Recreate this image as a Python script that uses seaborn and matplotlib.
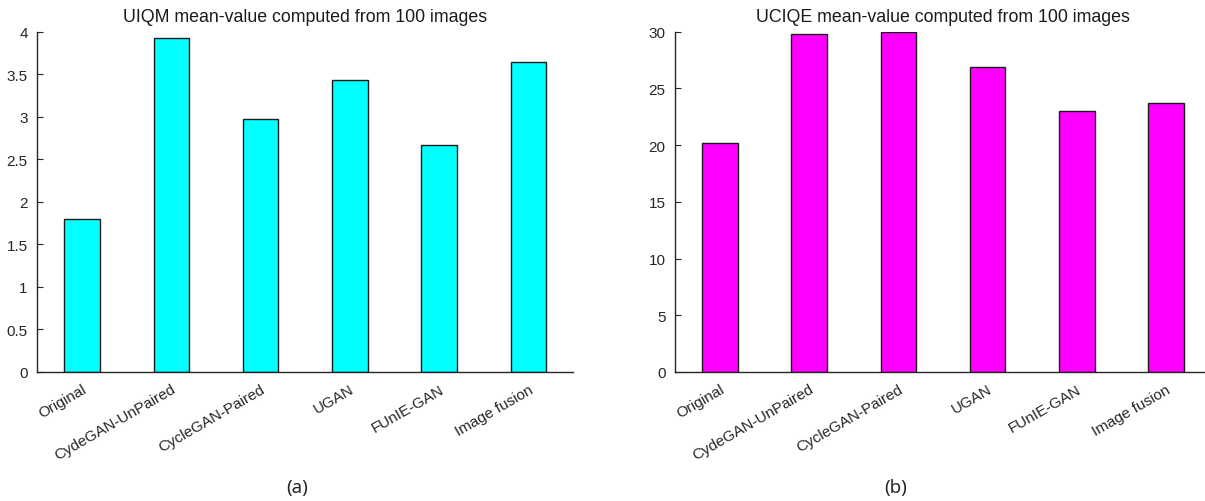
import matplotlib
matplotlib.use('Agg')
import matplotlib.pyplot as plt
import pandas as pd
import seaborn as sns

# data
methods = ['Original', 'CydeGAN-UnPaired', 'CycleGAN-Paired', 'UGAN', 'FUnIE-GAN', 'Image fusion']
uiqm = [1.80, 3.93, 2.97, 3.43, 2.67, 3.64]
uciqe = [20.2, 29.8, 29.95, 26.85, 23.0, 23.7]

sns.set_style('white')
plt.rcParams['font.family'] = ['Liberation Sans', 'DejaVu Sans']

fig = plt.figure(figsize=(12.05, 5.02), dpi=100)
ax1 = fig.add_axes([0.0311, 0.257, 0.4444, 0.678])
ax2 = fig.add_axes([0.5605, 0.257, 0.4441, 0.678])


def draw_panel(ax, values, color, title, yticks, ylim):
    df = pd.DataFrame({'method': methods, 'value': values})
    sns.barplot(data=df, x='method', y='value', color=color, edgecolor='#1a1a1a',
                linewidth=1.0, width=0.4, saturation=1, ax=ax)
    ax.set_xlim(-0.5, len(methods) - 0.5)
    ax.set_ylim(*ylim)
    ax.set_yticks(yticks)
    ax.set_yticklabels([('%g' % t) for t in yticks], fontsize=11)
    ax.set_xticks(range(len(methods)))
    ax.set_xticklabels(methods, rotation=30, ha='right', rotation_mode='anchor', fontsize=11)
    ax.tick_params(axis='x', length=0, pad=7, colors='#262626')
    ax.tick_params(axis='y', direction='in', length=4, width=0.8, left=True, pad=7, colors='#262626')
    ax.set_xlabel('')
    ax.set_ylabel('')
    ax.set_title(title, fontsize=12.8, pad=8, color='#1a1a1a')
    for s in ['top', 'right']:
        ax.spines[s].set_visible(False)
    for s in ['left', 'bottom']:
        ax.spines[s].set_color('#262626')
        ax.spines[s].set_linewidth(1.0)


draw_panel(ax1, uiqm, '#00FFFF', 'UIQM mean-value computed from 100 images',
           [0, 0.5, 1, 1.5, 2, 2.5, 3, 3.5, 4], (0, 4))
draw_panel(ax2, uciqe, '#FF00FF', 'UCIQE mean-value computed from 100 images',
           [0, 5, 10, 15, 20, 25, 30], (0, 30))

fig.text(0.247, 0.018, '(a)', fontsize=13.5, family=['Noto Sans', 'DejaVu Sans'], ha='center')
fig.text(0.743, 0.018, '(b)', fontsize=13.5, family=['Noto Sans', 'DejaVu Sans'], ha='center')

fig.savefig('out.png', dpi=100)
